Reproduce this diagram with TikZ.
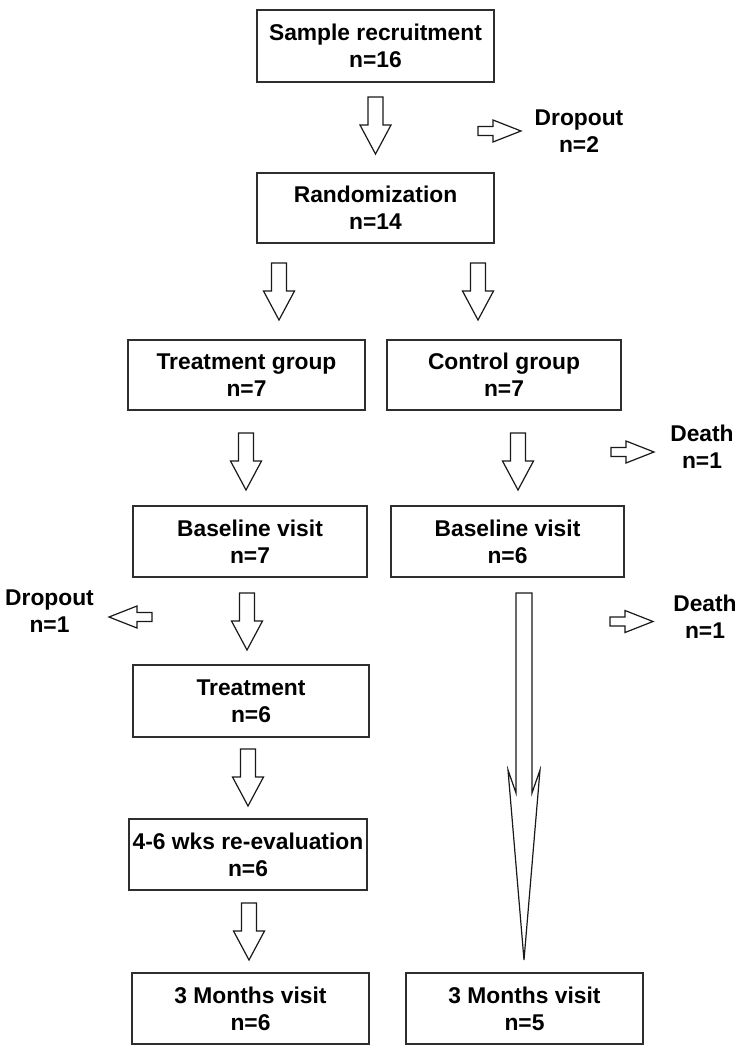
\documentclass[tikz,border=0pt]{standalone}
\usepackage{fontspec}
\setmainfont{Liberation Sans}
\begin{document}
\begin{tikzpicture}[x=1pt,y=-1pt,
  box/.style={draw=black!82, line width=1.4pt, inner sep=0pt, align=center,
    font=\bfseries\fontsize{22.8}{27}\selectfont},
  lbl/.style={inner sep=0pt, align=center, font=\bfseries\fontsize{22.8}{27}\selectfont},
  blk/.style={draw=black!90, line width=1.2pt, fill=white, line join=miter},
  downarr/.pic={\draw[blk] (-7.5,0) -- (-7.5,28) -- (-15.5,28) -- (0,57) -- (15.5,28) -- (7.5,28) -- (7.5,0) -- cycle;},
  rightarr/.pic={\draw[blk] (0,-4.5) -- (15,-4.5) -- (15,-11) -- (43,0) -- (15,11) -- (15,4.5) -- (0,4.5) -- cycle;}
]
\useasboundingbox (0,0) rectangle (744,1055);

% boxes
\node[box, minimum width=237pt, minimum height=72pt] (rec)  at (375.5,46)   {Sample recruitment\\n=16};
\node[box, minimum width=237pt, minimum height=70pt] (rand) at (375.5,208)  {Randomization\\n=14};
\node[box, minimum width=237pt, minimum height=70pt] (tg)   at (246.5,375)  {Treatment group\\n=7};
\node[box, minimum width=234pt, minimum height=70pt] (cg)   at (504,375)    {Control group\\n=7};
\node[box, minimum width=234pt, minimum height=71pt] (blL)  at (250,541.5)  {Baseline visit\\n=7};
\node[box, minimum width=233pt, minimum height=71pt] (blR)  at (507.5,541.5){Baseline visit\\n=6};
\node[box, minimum width=236pt, minimum height=72pt] (trt)  at (251,701)    {Treatment\\n=6};
\node[box, minimum width=238pt, minimum height=71pt] (ree)  at (248,854.5)  {4-6 wks re-evaluation\\n=6};
\node[box, minimum width=237pt, minimum height=71pt] (m3L)  at (250.5,1008.5){3 Months visit\\n=6};
\node[box, minimum width=237pt, minimum height=71pt] (m3R)  at (524.5,1008.5){3 Months visit\\n=5};

% side labels
\node[lbl] (drop1)  at (579,131)   {Dropout\\n=2};
\node[lbl] (drop2)  at (49.5,611.5){Dropout\\n=1};
\node[lbl] (death1) at (702,446.5) {Death\\n=1};
\node[lbl] (death2) at (705,616.5) {Death\\n=1};

% block arrows (down)
\pic at (375.5,97) {downarr};
\pic at (279,263) {downarr};
\pic at (478,263) {downarr};
\pic at (246,433) {downarr};
\pic at (518,433) {downarr};
\pic at (247,593) {downarr};
\pic at (248,749) {downarr};
\pic at (249,903) {downarr};

% block arrows (sideways)
\pic at (478,131) {rightarr};
\pic at (611,452) {rightarr};
\pic at (610,621.5) {rightarr};
\pic[xscale=-1] at (152,617) {rightarr};

% long arrow in control arm
\draw[blk] (516,593) -- (516,793) -- (508,770) -- (524,960) -- (540,770) -- (532,793) -- (532,593) -- cycle;
\end{tikzpicture}
\end{document}
